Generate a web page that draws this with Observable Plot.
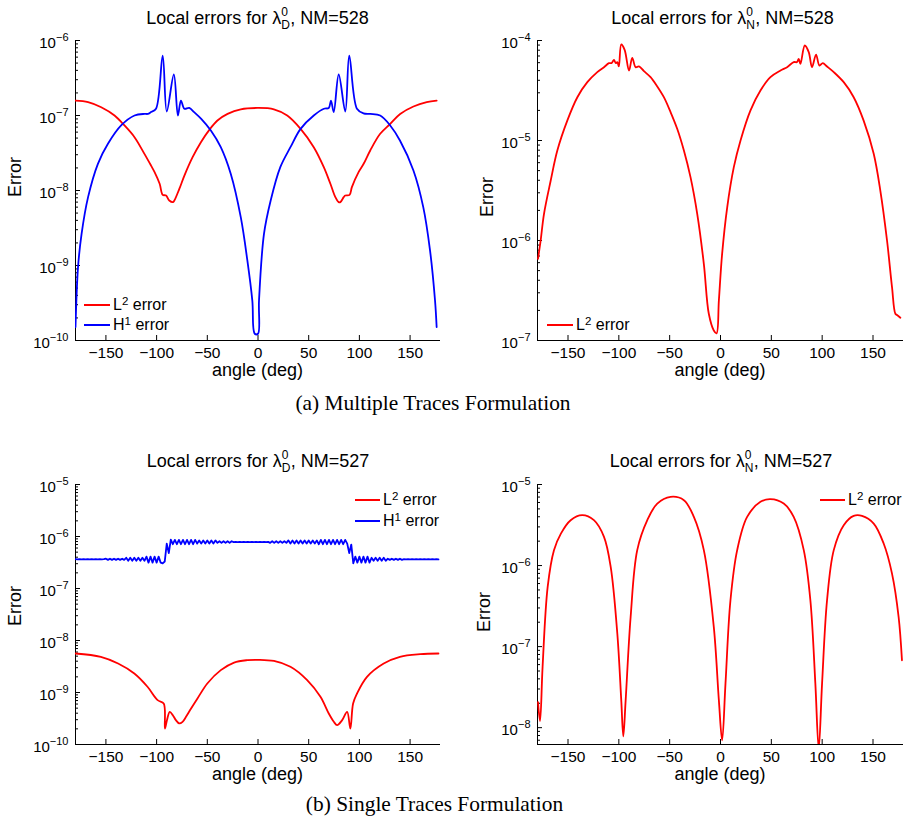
<!DOCTYPE html>
<html><head><meta charset="utf-8">
<script src="https://cdn.jsdelivr.net/npm/d3@7"></script>
<script src="https://cdn.jsdelivr.net/npm/@observablehq/plot@0.6"></script>
<style>
body{margin:0;background:#fff;}
#root{position:relative;width:907px;height:822px;overflow:hidden;background:#fff;color:#000;font-family:"Liberation Sans",Arial,sans-serif;}
#root svg{position:absolute;}
.sup{position:relative;top:-0.45em;font-size:0.72em;}
.ss{display:inline-block;position:relative;width:9px;height:0;}
.ss span{position:absolute;left:0;font-size:12px;line-height:12px;}
</style></head>
<body><div id="root"></div>
<script>
// ---------- data ----------
const xTicks = [-150, -100, -50, 0, 50, 100, 150];
const yTicks1 = [1e-10, 1e-9, 1e-8, 1e-7, 1e-6];
const yTicks2 = [1e-7, 1e-6, 1e-5, 1e-4];
const yTicks3 = [1e-10, 1e-9, 1e-8, 1e-7, 1e-6, 1e-5];
const yTicks4 = [1e-8, 1e-7, 1e-6, 1e-5];

// (a) lambda_D, NM=528
const p1L2Angle = [-180,-167.6,-154.6,-141.5,-131.7,-121.8,-112,-105.5,-102,-97,-94,-90.7,-87.5,-84,-82.5,-77.6,-72.6,-64.5,-56.3,-48,-40,-30,-17,0,15.7,28.8,42,55,64.9,71.4,76.3,79.6,81.2,84.5,86.1,90.3,92.6,99.2,104.2,110.7,120.5,130.4,140.2,153.3,166.4,176.2];
const p1L2 = [1.58e-7,1.51e-7,1.29e-7,1.0e-7,7.36e-8,5.14e-8,3.08e-8,2.15e-8,1.76e-8,1.23e-8,8.75e-9,8.58e-9,7.36e-9,6.99e-9,7.36e-9,1.05e-8,1.58e-8,2.78e-8,4.41e-8,6.44e-8,8.58e-8,1.05e-7,1.21e-7,1.26e-7,1.21e-7,1.0e-7,6.64e-8,3.78e-8,2.05e-8,1.23e-8,8.15e-9,6.99e-9,6.99e-9,8.15e-9,8.58e-9,8.75e-9,1.11e-8,1.76e-8,2.27e-8,3.42e-8,5.7e-8,7.74e-8,1.05e-7,1.32e-7,1.51e-7,1.58e-7];
const p1H1Angle = [-180,-177.5,-174,-167.6,-157.9,-148,-135,-121.8,-112,-108.7,-105.5,-100.6,-94,-90,-83,-79,-76,-72.6,-67.8,-63,-56,-46.5,-36.7,-26.9,-17,-10.5,-5.6,-3.2,0,1,5.9,12.5,22,32,42,55,65,69.8,72,74.7,79.6,86.1,90,97.6,104,110.7,120.5,130.4,140,153.3,163,169.7,174.6,176.2];
const p1H1 = [1.51e-10,9.5e-10,2.64e-9,8.15e-9,2.27e-8,4.19e-8,7.36e-8,1.0e-7,1.05e-7,1.05e-7,1.11e-7,1.23e-7,6.3e-7,1.13e-7,3.52e-7,1.0e-7,1.58e-7,1.23e-7,1.26e-7,1.11e-7,9.03e-8,6.31e-8,3.78e-8,1.67e-8,4.41e-9,1.17e-9,3.41e-10,1.23e-10,1.23e-10,3.41e-10,2.64e-9,7.36e-9,2.05e-8,3.78e-8,6.64e-8,1.0e-7,1.23e-7,1.26e-7,1.58e-7,1.11e-7,3.52e-7,1.13e-7,6.3e-7,1.23e-7,1.07e-7,1.05e-7,1.0e-7,7.36e-8,4.64e-8,1.85e-8,6.0e-9,1.58e-9,3.41e-10,1.51e-10];

// (a) lambda_N, NM=528
const p2L2Angle = [-179.5,-176.9,-173.6,-167,-160.5,-150.7,-140.8,-131,-121.2,-114.6,-109.7,-107,-104.8,-103,-101.5,-100,-97.6,-94.3,-90,-86.8,-83.5,-80.2,-75.3,-68.8,-62.2,-55.7,-49.1,-42.6,-36,-29.5,-22.9,-16.4,-11.5,-6.6,-3.9,-1.6,1.6,6.6,13.1,19.7,29.5,39.3,49.1,59,65.5,72,75.3,76.9,78.6,82.9,86.8,90,94,97.3,100.6,104.8,111.4,121.2,131,140.8,150.7,157.2,163.8,168.7,172,173.6,176.9];
const p2L2 = [6.56e-7,1.0e-6,1.85e-6,3.98e-6,7.94e-6,1.58e-5,2.71e-5,3.83e-5,4.83e-5,5.41e-5,5.93e-5,5.95e-5,6.41e-5,5.93e-5,6.08e-5,5.5e-5,9.12e-5,8.07e-5,5.01e-5,6.71e-5,5.41e-5,5.5e-5,4.94e-5,4.3e-5,3.47e-5,2.71e-5,1.92e-5,1.31e-5,7.94e-6,4.3e-6,1.85e-6,5.85e-7,1.85e-7,1.26e-7,1.18e-7,2.51e-7,7.36e-7,2.15e-6,5.41e-6,1.0e-5,2.0e-5,3.16e-5,4.3e-5,5.01e-5,5.41e-5,6.08e-5,6.08e-5,6.56e-5,5.84e-5,8.91e-5,7.65e-5,5.41e-5,7.24e-5,5.62e-5,5.95e-5,5.5e-5,4.83e-5,3.83e-5,2.71e-5,1.58e-5,7.36e-6,3.16e-6,1.0e-6,3.41e-7,1.85e-7,1.8e-7,1.69e-7];

// (b) lambda_D, NM=527
const p3L2Angle = [-180,-155,-138,-122,-109,-99,-93,-91.8,-89.8,-87,-84,-81,-77.7,-74.4,-71,-66,-59.7,-50,-36.7,-23.6,-10.5,0,15.7,32,48.5,61.6,69.8,74.8,78,83,87.9,91.1,93.8,97.7,107.5,124,140,160,178];
const p3L2 = [5.62e-9,4.85e-9,3.61e-9,2.32e-9,1.29e-9,7.13e-10,6.14e-10,2.03e-10,2.94e-10,4.25e-10,3.66e-10,2.94e-10,2.54e-10,2.73e-10,3.4e-10,4.92e-10,7.67e-10,1.49e-9,2.69e-9,3.77e-9,4.19e-9,4.25e-9,4.04e-9,3.12e-9,1.73e-9,8.26e-10,3.94e-10,2.73e-10,2.36e-10,2.94e-10,4.25e-10,2.03e-10,6.14e-10,9.57e-10,2.0e-9,3.61e-9,4.85e-9,5.45e-9,5.62e-9];
const p3H1Angle = d3.range(-180, 180, 2); // sampled every 2 degrees
const p3H1 = [
  3.66e-7,3.64e-7,3.66e-7,3.64e-7,3.66e-7,3.64e-7,3.66e-7,3.64e-7,3.66e-7,3.64e-7,3.66e-7,3.64e-7,3.66e-7,3.64e-7,3.66e-7,
  3.75e-7,3.55e-7,3.75e-7,3.55e-7,3.75e-7,3.55e-7,3.75e-7,3.55e-7,3.75e-7,3.55e-7,
  3.9e-7,3.4e-7,3.9e-7,3.4e-7,3.9e-7,3.4e-7,3.9e-7,3.4e-7,3.9e-7,3.4e-7,
  4.1e-7,3.15e-7,4.1e-7,3.15e-7,4.1e-7,3.15e-7,4.1e-7,3.15e-7,
  3.05e-7,3.3e-7,7.3e-7,4.8e-7,8.7e-7,
  7.1e-7,8.6e-7,7.1e-7,8.6e-7,7.1e-7,8.6e-7,7.1e-7,8.6e-7,7.1e-7,8.6e-7,7.1e-7,8.6e-7,
  7.3e-7,8.4e-7,7.3e-7,8.4e-7,7.3e-7,8.4e-7,7.3e-7,8.4e-7,7.3e-7,8.4e-7,
  7.55e-7,8.1e-7,7.55e-7,8.1e-7,7.55e-7,8.1e-7,7.55e-7,8.1e-7,
  7.8e-7,7.9e-7,7.8e-7,7.9e-7,7.8e-7,7.9e-7,7.8e-7,7.9e-7,7.8e-7,7.9e-7,7.8e-7,7.9e-7,7.8e-7,7.9e-7,7.8e-7,7.9e-7,7.8e-7,7.9e-7,
  7.55e-7,8.1e-7,7.55e-7,8.1e-7,7.55e-7,8.1e-7,7.55e-7,8.1e-7,7.55e-7,
  8.4e-7,7.3e-7,8.4e-7,7.3e-7,8.4e-7,7.3e-7,8.4e-7,7.3e-7,8.4e-7,7.3e-7,8.4e-7,7.3e-7,8.4e-7,7.3e-7,8.4e-7,
  7.1e-7,8.6e-7,7.1e-7,8.6e-7,7.1e-7,8.6e-7,7.1e-7,8.6e-7,7.1e-7,8.6e-7,7.1e-7,8.6e-7,7.1e-7,8.6e-7,
  7.3e-7,4.8e-7,7.0e-7,3.05e-7,
  4.1e-7,3.15e-7,4.1e-7,3.15e-7,4.1e-7,3.15e-7,4.1e-7,3.15e-7,
  3.9e-7,3.4e-7,3.9e-7,3.4e-7,3.9e-7,3.4e-7,3.9e-7,3.4e-7,
  3.75e-7,3.55e-7,3.75e-7,3.55e-7,3.75e-7,3.55e-7,3.75e-7,3.55e-7,
  3.66e-7,3.64e-7,3.66e-7,3.64e-7,3.66e-7,3.64e-7,3.66e-7,3.64e-7,3.66e-7,3.64e-7,3.66e-7,3.64e-7,3.66e-7,3.64e-7,3.66e-7,3.64e-7,3.66e-7,3.64e-7
];

// (b) lambda_N, NM=527
const p4L2Angle = [-179.5,-177.5,-175,-170,-163.8,-157,-147.4,-136,-124.5,-114.6,-108,-101.5,-97.6,-95.6,-93.3,-88.4,-81.9,-72,-62.2,-49.1,-36,-26.2,-16.4,-6.6,-1.6,1.6,4.9,9.8,16.4,26.2,39.3,49.1,62.2,72,81.9,88.4,93.3,96.6,99.9,104.8,111.4,121.2,131,139.2,150.7,160.5,168.7,175.2,178.5];
const p4L2 = [2.07e-8,1.21e-8,5.61e-8,5.46e-7,1.55e-6,2.48e-6,3.63e-6,4.18e-6,3.63e-6,2.26e-6,9.64e-7,1.45e-7,2.17e-8,7.82e-9,2.17e-8,2.32e-7,1.55e-6,3.63e-6,5.82e-6,7.04e-6,6.41e-6,3.98e-6,1.55e-6,1.75e-7,2.17e-8,6.98e-9,3.49e-8,3.73e-7,1.55e-6,3.98e-6,6.11e-6,6.59e-6,5.82e-6,3.98e-6,1.55e-6,3.73e-7,3.49e-8,5.5e-9,3.49e-8,3.73e-7,1.55e-6,3.15e-6,4.1e-6,4.1e-6,3.3e-6,1.87e-6,7.96e-7,2.32e-7,6.78e-8];

const RED = "#ff0000", BLUE = "#0000ff";
const root = document.getElementById("root");
const SANS = '"Liberation Sans", Arial, sans-serif';
const SERIF = '"Liberation Serif", "Times New Roman", serif';

function rows(a, v) { return a.map((x, i) => ({a: x, v: v[i]})); }
function minorTicks([lo, hi]) {
  const out = [];
  for (let e = Math.floor(Math.log10(lo)); e < Math.log10(hi); e++)
    for (let m = 2; m <= 9; m++) { const v = m * Math.pow(10, e); if (v >= lo && v <= hi) out.push(v); }
  return out;
}

function panel(p) {
  const marks = [
    Plot.ruleX([-180], {stroke: "#000", strokeWidth: 1}),
    Plot.ruleY([p.yDomain[0]], {stroke: "#000", strokeWidth: 1}),
    Plot.axisX({ticks: xTicks, tickSize: -5, tickFormat: () => "", label: null}),
    Plot.axisX({ticks: xTicks, tickSize: 0, tickPadding: 6, label: null, fontSize: 15.5}),
    Plot.axisY({ticks: p.yTicks, tickSize: -5, tickFormat: () => "", label: null}),
    Plot.axisY({ticks: minorTicks(p.yDomain), tickSize: -3, tickFormat: () => "", label: null}),
    Plot.axisY({ticks: p.yTicks, tickSize: 0, tickPadding: 7, dy: 3, fontSize: 15,
      tickFormat: d => "10^" + Math.round(Math.log10(d)), label: null}),
    ...p.series.map(s => Plot.line(rows(s.a, s.v), {x: "a", y: "v", stroke: s.color, strokeWidth: 1.8,
      curve: s.curve || "catmull-rom", clip: true}))
  ];
  const svg = Plot.plot({
    width: p.w, height: p.h,
    marginLeft: p.mL, marginRight: p.mR, marginTop: 10, marginBottom: p.h - 10 - p.fh,
    x: {domain: [-180, 180]},
    y: {type: "log", domain: p.yDomain},
    style: {background: "transparent", fontFamily: SANS, fontSize: "15px", color: "#000", overflow: "visible"},
    marks
  });
  svg.style.left = p.left + "px";
  svg.style.top = p.top + "px";
  // superscript exponents in y tick labels
  svg.querySelectorAll('[aria-label="y-axis tick label"] text').forEach(t => {
    const s = t.textContent;
    if (!s.includes("^")) return;
    const [b, e] = s.split("^");
    t.textContent = "";
    const ns = "http://www.w3.org/2000/svg";
    const t1 = document.createElementNS(ns, "tspan"); t1.textContent = b;
    const t2 = document.createElementNS(ns, "tspan"); t2.textContent = e.replace("-", "\u2212");
    t2.setAttribute("dy", "-7"); t2.style.fontSize = "11px";
    t.append(t1, t2);
  });
  root.appendChild(svg);
}

function txt(html, x, baseline, size, opts = {}) {
  const d = document.createElement("div");
  d.innerHTML = html;
  const k = opts.serif ? 0.8375 : 0.8465;
  Object.assign(d.style, {position: "absolute", left: x + "px", top: (baseline - k * size) + "px",
    fontSize: size + "px", lineHeight: size + "px", fontFamily: opts.serif ? SERIF : SANS,
    whiteSpace: "nowrap", transform: opts.middle ? "translateX(-50%)" : "none"});
  root.appendChild(d);
}
function vtxt(s, cx, cy, size) {
  const d = document.createElement("div");
  d.textContent = s;
  Object.assign(d.style, {position: "absolute", left: cx + "px", top: cy + "px", fontSize: size + "px",
    lineHeight: size + "px", whiteSpace: "nowrap", transform: "translate(-50%,-50%) rotate(-90deg)"});
  root.appendChild(d);
}
function legendItem(x0, x1, y, color, html) {
  const l = document.createElement("div");
  Object.assign(l.style, {position: "absolute", left: x0 + "px", top: (y - 1) + "px", width: (x1 - x0) + "px", height: "2px", background: color});
  root.appendChild(l);
  txt(html, x1 + 3, y + 6, 16);
}
function title(sub, nm, cx, baseline) {
  txt(`Local errors for \u03BB<span class="ss"><span style="top:-17.5px">0</span><span style="top:-4.9px">${sub}</span></span>, NM=${nm}`, cx, baseline, 18, {middle: true});
}

// ---------- panels ----------
panel({left: 0, top: 30, w: 450, h: 360, mL: 75, mR: 10, fh: 300, yDomain: [1e-10, 1e-6], yTicks: yTicks1,
  series: [{a: p1L2Angle, v: p1L2, color: RED}, {a: p1H1Angle, v: p1H1, color: BLUE}]});
panel({left: 450, top: 30, w: 457, h: 360, mL: 87, mR: 4, fh: 300, yDomain: [1e-7, 1e-4], yTicks: yTicks2,
  series: [{a: p2L2Angle, v: p2L2, color: RED}]});
panel({left: 0, top: 474, w: 450, h: 320, mL: 75, mR: 10, fh: 260, yDomain: [1e-10, 1e-5], yTicks: yTicks3,
  series: [{a: p3L2Angle, v: p3L2, color: RED}, {a: p3H1Angle, v: p3H1, color: BLUE, curve: "linear"}]});
panel({left: 450, top: 474, w: 457, h: 320, mL: 87, mR: 4, fh: 260, yDomain: [6.2e-9, 1e-5], yTicks: yTicks4,
  series: [{a: p4L2Angle, v: p4L2, color: RED}]});

// ---------- text ----------
title("D", 528, 257.6, 24);
title("N", 528, 722.5, 24);
title("D", 527, 258, 467);
title("N", 527, 721, 467);

txt("angle (deg)", 257.5, 376, 18, {middle: true});
txt("angle (deg)", 720, 376, 18, {middle: true});
txt("angle (deg)", 257.5, 780, 18, {middle: true});
txt("angle (deg)", 720, 780, 18, {middle: true});
vtxt("Error", 15, 177, 18);
vtxt("Error", 487, 197, 18);
vtxt("Error", 15, 606, 18);
vtxt("Error", 484, 612, 18);

legendItem(84, 110, 305, RED, 'L<span class="sup">2</span> error');
legendItem(84, 110, 325, BLUE, 'H<span class="sup">1</span> error');
legendItem(547, 573, 325, RED, 'L<span class="sup">2</span> error');
legendItem(355, 380, 500, RED, 'L<span class="sup">2</span> error');
legendItem(355, 380, 521, BLUE, 'H<span class="sup">1</span> error');
legendItem(820, 845, 500, RED, 'L<span class="sup">2</span> error');

txt("(a) Multiple Traces Formulation", 433, 411, 21.4, {serif: true, middle: true});
txt("(b) Single Traces Formulation", 434.5, 812, 21.4, {serif: true, middle: true});
</script>
</body></html>
